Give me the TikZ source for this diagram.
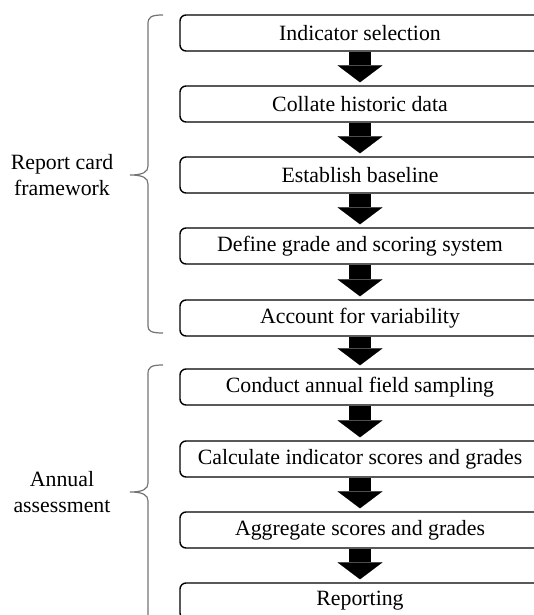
\documentclass[tikz,border=0pt]{standalone}
\usepackage{fontspec}
\setmainfont{Liberation Serif}
\usetikzlibrary{arrows.meta}
\begin{document}
\begin{tikzpicture}[x=1pt,y=-1pt,every node/.style={font=\fontsize{21.8}{26}\selectfont},
  stepbox/.style={draw,line width=1.4pt,rounded corners=6pt,minimum width=360pt,minimum height=36pt,inner sep=0pt},
  flowarrow/.style={line width=22pt,-{Triangle[width=45pt,length=17pt,line width=0.1pt]},shorten >=3pt},
  curly/.style={draw=black!55,line width=1.2pt}]
\useasboundingbox (0,0) rectangle (534,615);
\foreach \n/\y/\t in {1/33/Indicator selection, 2/104/Collate historic data, 3/175/Establish baseline,
  4/246/Define grade and scoring system, 5/318/Account for variability, 6/387/Conduct annual field sampling,
  7/459/Calculate indicator scores and grades, 8/530/Aggregate scores and grades, 9/601/Reporting}
  \node[stepbox] (b\n) at (360,\y) {\t};
\foreach \a/\b in {1/2,2/3,3/4,4/5,5/6,6/7,7/8,8/9} \draw[flowarrow] (b\a.south) -- (b\b.north);
% braces on the left
\draw[curly] (163,15) .. controls (151,15) and (148,17) .. (148,24) -- (148,166) .. controls (148,172) and (143,175) .. (130,175)
  .. controls (143,175) and (148,178) .. (148,184) -- (148,326) .. controls (148,331) and (151,333) .. (163,333);
\draw[curly] (163,365) .. controls (151,365) and (148,367) .. (148,374) -- (148,483) .. controls (148,489) and (143,492) .. (130,492)
  .. controls (143,492) and (148,495) .. (148,501) -- (148,618) .. controls (148,623) and (151,625) .. (163,625);
\node[align=center] (rcf) at (62,175) {Report card\\framework};
\node[align=center] (aa) at (62,492) {Annual\\assessment};
\end{tikzpicture}
\end{document}
